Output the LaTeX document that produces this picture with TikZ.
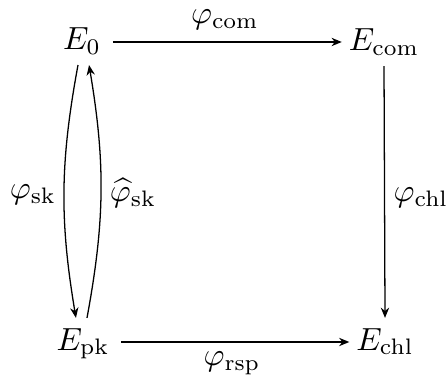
\documentclass[tikz,border=0pt]{standalone}
\usetikzlibrary{arrows.meta}
\begin{document}
\begin{tikzpicture}[x=0.3125pt,y=-0.3125pt,
  obj/.style={anchor=base,inner xsep=3.5pt,inner ysep=3pt},
  objr/.style={obj,inner xsep=2pt},
  lbl/.style={inner sep=0pt},
  arr/.style={-{Stealth[length=3.2pt,width=2.6pt]},line width=0.4pt}]
\useasboundingbox (0,0) rectangle (446,378);
\node[obj] (E0) at (82,50) {$E_0$};
\node[objr] (Ecom) at (384,51) {$E_{\mathrm{com}}$};
\node[obj] (Epk) at (83,350) {$E_{\mathrm{pk}}$};
\node[objr] (Echl) at (385,350) {$E_{\mathrm{chl}}$};
\draw[arr] ([yshift=2.5pt]E0.base east) -- ([yshift=2.5pt]E0.base east -| Ecom.west);
\draw[arr] ([yshift=2.5pt]Epk.base east) -- ([yshift=2.5pt]Epk.base east -| Echl.west);
\draw[arr] (Ecom.south) -- (Echl.north);
\draw[arr] ([xshift=-1.25pt]E0.south) to[bend right=10] ([xshift=-2.2pt]Epk.north);
\draw[arr] ([xshift=1.25pt]Epk.north) to[bend right=10] ([xshift=2.2pt]E0.south);
\node[lbl] (lcom) at (225,20) {$\varphi_{\mathrm{com}}$};
\node[lbl] (lchl) at (421,198) {$\varphi_{\mathrm{chl}}$};
\node[lbl] (lrsp) at (232,363) {$\varphi_{\mathrm{rsp}}$};
\node[lbl] (lsk) at (33,195) {$\varphi_{\mathrm{sk}}$};
\node[lbl] (lhsk) at (133,193) {$\widehat{\varphi}_{\mathrm{sk}}$};
\end{tikzpicture}
\end{document}
